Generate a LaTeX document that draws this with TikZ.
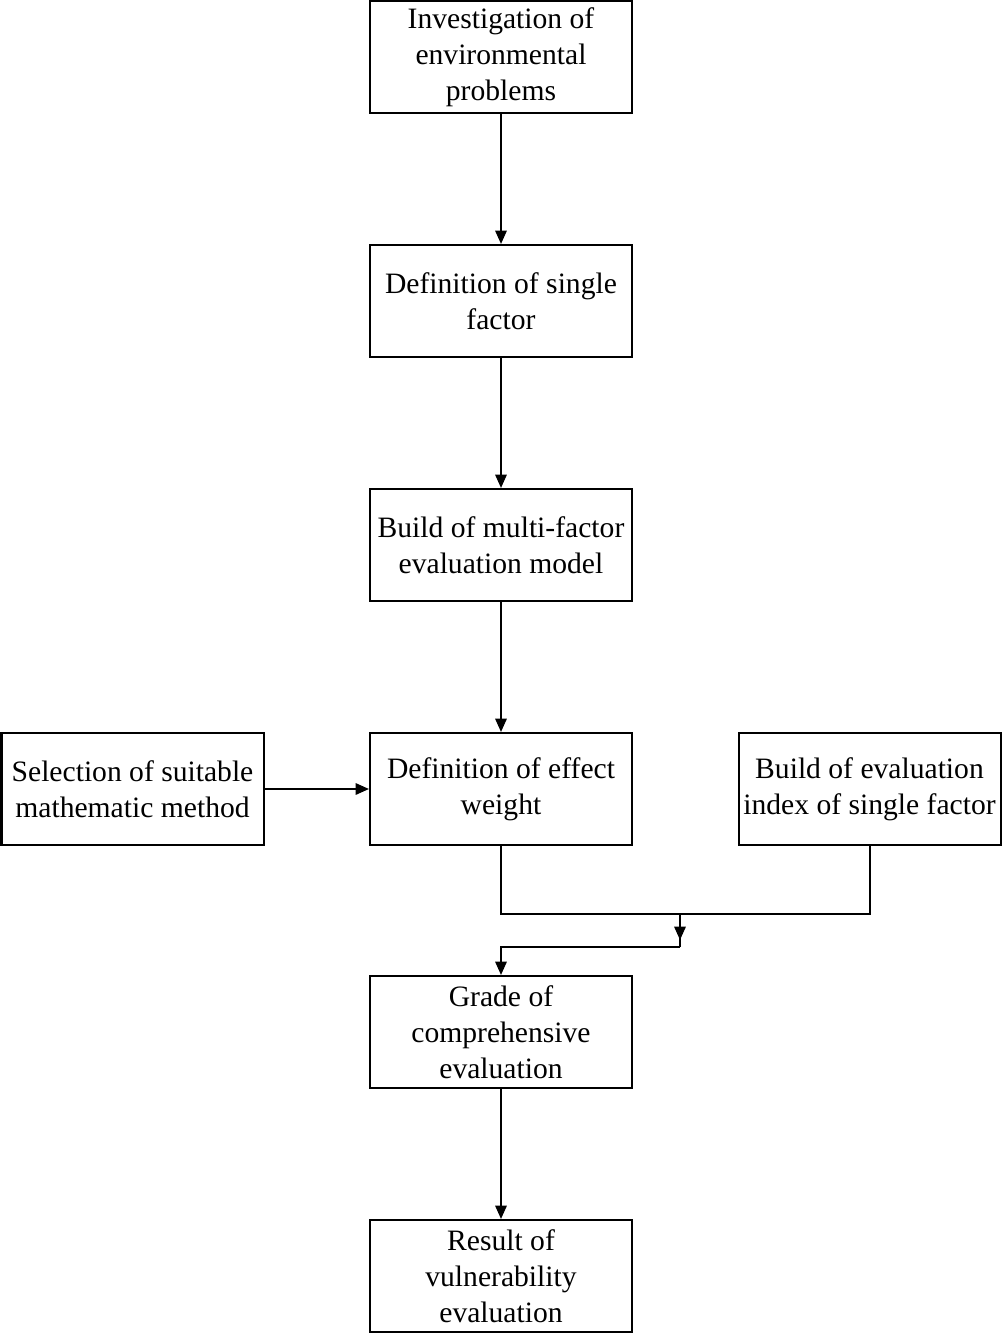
\documentclass[tikz,border=0pt]{standalone}
\usepackage{fontspec}
\setmainfont{Liberation Serif}
\usetikzlibrary{arrows.meta}
\begin{document}
\begin{tikzpicture}[x=0.75pt,y=-0.75pt,
  box/.style={draw, line width=1.5pt, minimum width=196.5pt, minimum height=84pt, inner sep=0pt, align=center, font=\fontsize{22.2}{27}\selectfont},
  conn/.style={line width=1.5pt},
  arr/.style={line width=1.5pt, -{Triangle[length=10pt,width=8.5pt]}}]
\useasboundingbox (0,0) rectangle (1002,1333);
\node[box] (b1) at (501,57) {Investigation of\\environmental\\problems};
\node[box] (b2) at (501,301) {Definition of single\\factor};
\node[box] (b3) at (501,545) {Build of multi-factor\\evaluation model};
\node[box] (b4) at (501,789) {Definition of effect\\weight};
\node[box] (lb) at (132.5,789) {Selection of suitable\\mathematic method};
\node[box] (rb) at (869.5,789) {Build of evaluation\\index of single factor};
\node[box] (b5) at (501,1032) {Grade of\\comprehensive\\evaluation};
\node[box] (b6) at (501,1276) {Result of\\vulnerability\\evaluation};
\coordinate (j1) at (680,914);
\coordinate (j2) at (680,947);
\coordinate (jt) at (680,940);
\draw[arr] (b1) -- (b2);
\draw[arr] (b2) -- (b3);
\draw[arr] (b3) -- (b4);
\draw[arr] (lb) -- (b4);
\draw[conn] (b4.south) |- (j1);
\draw[conn] (rb.south) |- (j1);
\draw[conn] (j1) -- (j2);
\draw[arr] (j1) -- (jt);
\draw[arr] (j2) -| (b5.north);
\draw[arr] (b5) -- (b6);
\end{tikzpicture}
\end{document}
